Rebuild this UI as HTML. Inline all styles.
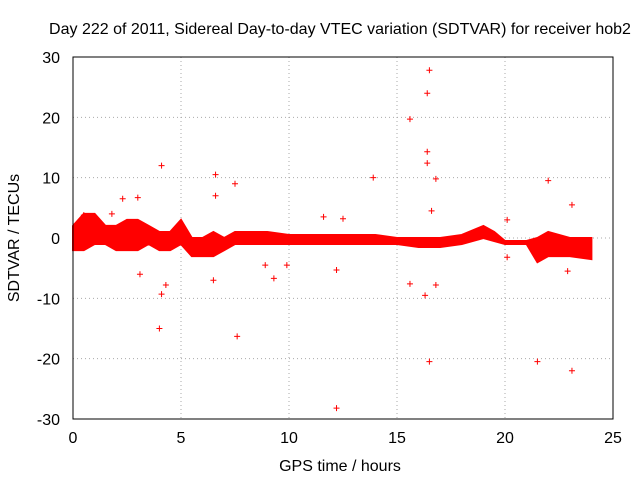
<!DOCTYPE html>
<html><head><meta charset="utf-8"><style>
body{margin:0;background:#fff}
text{font-family:"Liberation Sans",sans-serif;font-size:16px;fill:#000}
</style></head><body>
<svg id="c" width="640" height="480">
<text x="340" y="34" text-anchor="middle">Day 222 of 2011, Sidereal Day-to-day VTEC variation (SDTVAR) for receiver hob2</text>
<text transform="translate(19,238) rotate(-90)" text-anchor="middle">SDTVAR / TECUs</text>
<text x="340" y="471" text-anchor="middle">GPS time / hours</text>
<g id="grid"></g><g id="marks"></g>
<rect x="73" y="57" width="540" height="362" fill="none" stroke="#000"/>
</svg>
<script>
const xTicks=[0,5,10,15,20,25];
const yTicks=[-30,-20,-10,0,10,20,30];
const bandHours=[0,0.5,1,1.5,2,2.5,3,3.5,4,4.5,5,5.5,6,6.5,7,7.5,8,9,10,11,12,13,14,15,16,17,18,19,19.5,20,21,21.5,22,23,24];
const bandUpper=[2,4,4,2,2,3,3,2,1,1,3,0,0,1,0,1,1,1,0.5,0.5,0.5,0.5,0.5,0,0,0,0.5,2,1,-0.5,-0.5,0,1,0,0];
const bandLower=[-2,-2,-1,-1,-2,-2,-2,-1,-2,-2,-1,-3,-3,-3,-2,-1,-1,-1,-1,-1,-1,-1,-1,-1,-1.5,-1.5,-1,0,-0.5,-1,-1,-4,-3,-3,-3.5];
const outX=[4.1,4.0,4.1,4.3,6.6,6.5,7.5,7.6,9.9,9.3,8.9,12.2,12.2,13.9,15.6,15.6,16.5,16.4,16.4,16.4,16.8,16.3,16.5,16.8,21.5,23.1,22,23.1,20.1,20.1,2.3,3,1.8,11.6,12.5,22.9,0.5,3.1,6.6,16.6];
const outY=[12,-15,-9.3,-7.8,10.5,-7,9,-16.3,-4.5,-6.7,-4.5,-28.2,-5.3,10,19.7,-7.6,27.8,24,14.3,12.4,9.8,-9.5,-20.5,-7.8,-20.5,-22,9.5,5.5,3,-3.2,6.5,6.7,4,3.5,3.2,-5.5,3.8,-6,7,4.5];
const X=v=>73+v*540/25, Y=v=>238-v*362/60;
const ns='http://www.w3.org/2000/svg';
const grid=document.getElementById('grid'),marks=document.getElementById('marks');
function mk(tag,at,par){const e=document.createElementNS(ns,tag);for(const k in at)e.setAttribute(k,at[k]);par.appendChild(e);return e;}
xTicks.forEach(t=>{
 const l=mk('line',{x1:X(t),x2:X(t),y1:57,y2:419,stroke:'#aaa','stroke-dasharray':'1,3'},grid);
 
 
 const s=mk('text',{x:X(t),y:443,'text-anchor':'middle'},grid);s.textContent=t;
 
 
});
yTicks.forEach(t=>{
 const l=mk('line',{x1:73,x2:613,y1:Y(t),y2:Y(t),stroke:'#aaa','stroke-dasharray':'1,3'},grid);
 
 
 const s=mk('text',{x:60,y:Y(t)+6,'text-anchor':'end'},grid);s.textContent=t;
 
 
});
let pts=bandHours.map((h,i)=>X(h)+','+Y(bandUpper[i]));
pts=pts.concat(bandHours.map((h,i)=>X(h)+','+Y(bandLower[i])).reverse());
const band=mk('polygon',{points:pts.join(' '),fill:'#f00',stroke:'#f00','stroke-width':2},marks);


outX.forEach((x,i)=>{
 const cx=X(x),cy=Y(outY[i]);
 const p=mk('path',{d:`M${cx-3},${cy}h6M${cx},${cy-3}v6`,stroke:'#f00','stroke-width':1},marks);
 
 
});
</script>
</body></html>
